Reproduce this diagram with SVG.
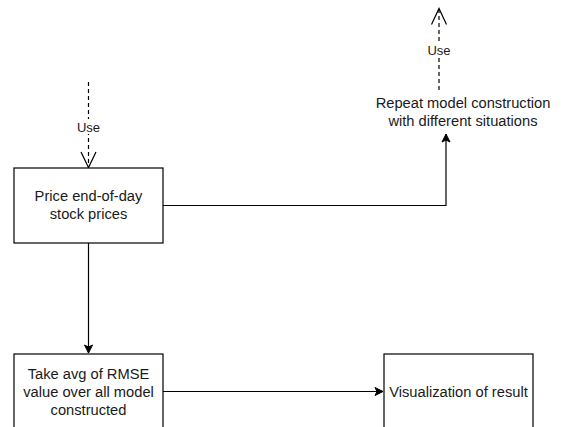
<svg xmlns="http://www.w3.org/2000/svg" width="563" height="427" viewBox="0 0 563 427">
<style>
.box{fill:#ffffff;stroke:#000000;stroke-width:1.2}
.t{font-family:"Liberation Sans",Arial,sans-serif;font-size:14.7px;fill:#1a1a1a;text-anchor:middle}
.lbl{font-family:"Liberation Sans",Arial,sans-serif;font-size:13px;fill:#1a1a1a;text-anchor:middle}
.line{fill:none;stroke:#000000;stroke-width:1.2}
.dash{fill:none;stroke:#000000;stroke-width:1.2;stroke-dasharray:4 3}
.open{fill:none;stroke:#000000;stroke-width:1.2}
</style>
<defs>
<marker id="arr" markerWidth="10" markerHeight="10" refX="9" refY="5" orient="auto" markerUnits="userSpaceOnUse">
<path d="M1,1 L9,5 L1,9 L3,5 Z" fill="#000000" stroke="#000000" stroke-width="1"/>
</marker>
</defs>
<rect width="563" height="427" fill="#ffffff"/>
<g id="connectors">
<g id="use-in">
<line class="dash" x1="88.5" y1="82" x2="88.5" y2="167"/>
<path class="open" d="M81,152 L88.5,167.5 L96,152"/>
<rect x="75" y="119" width="27" height="15" fill="#ffffff"/>
<text class="lbl" x="88.5" y="131.5">Use</text>
</g>
<g id="use-out">
<line class="dash" x1="439" y1="90" x2="439" y2="9"/>
<path class="open" d="M431.5,24.5 L439,8.5 L446.5,24.5"/>
<rect x="425" y="42" width="28" height="15" fill="#ffffff"/>
<text class="lbl" x="439" y="54.5">Use</text>
</g>
<path class="line" d="M163,205.5 L446,205.5 L446,134" marker-end="url(#arr)"/>
<path class="line" d="M88.5,243 L88.5,353" marker-end="url(#arr)"/>
<path class="line" d="M163,391.5 L383,391.5" marker-end="url(#arr)"/>
</g>
<g id="price">
<rect class="box" x="14" y="168" width="149" height="75"/>
<text class="t" x="88.5" y="200.5">Price end-of-day</text>
<text class="t" x="88.5" y="218.5">stock prices</text>
</g>
<g id="repeat">
<text class="t" x="463" y="107.5">Repeat model construction</text>
<text class="t" x="463" y="125.5">with different situations</text>
</g>
<g id="avg">
<rect class="box" x="14" y="354" width="149" height="75"/>
<text class="t" x="88.5" y="378.5">Take avg of RMSE</text>
<text class="t" x="88.5" y="396.5">value over all model</text>
<text class="t" x="88.5" y="414.5">constructed</text>
</g>
<g id="viz">
<rect class="box" x="384" y="354" width="149" height="75"/>
<text class="t" x="458.5" y="396.5">Visualization of result</text>
</g>
</svg>
